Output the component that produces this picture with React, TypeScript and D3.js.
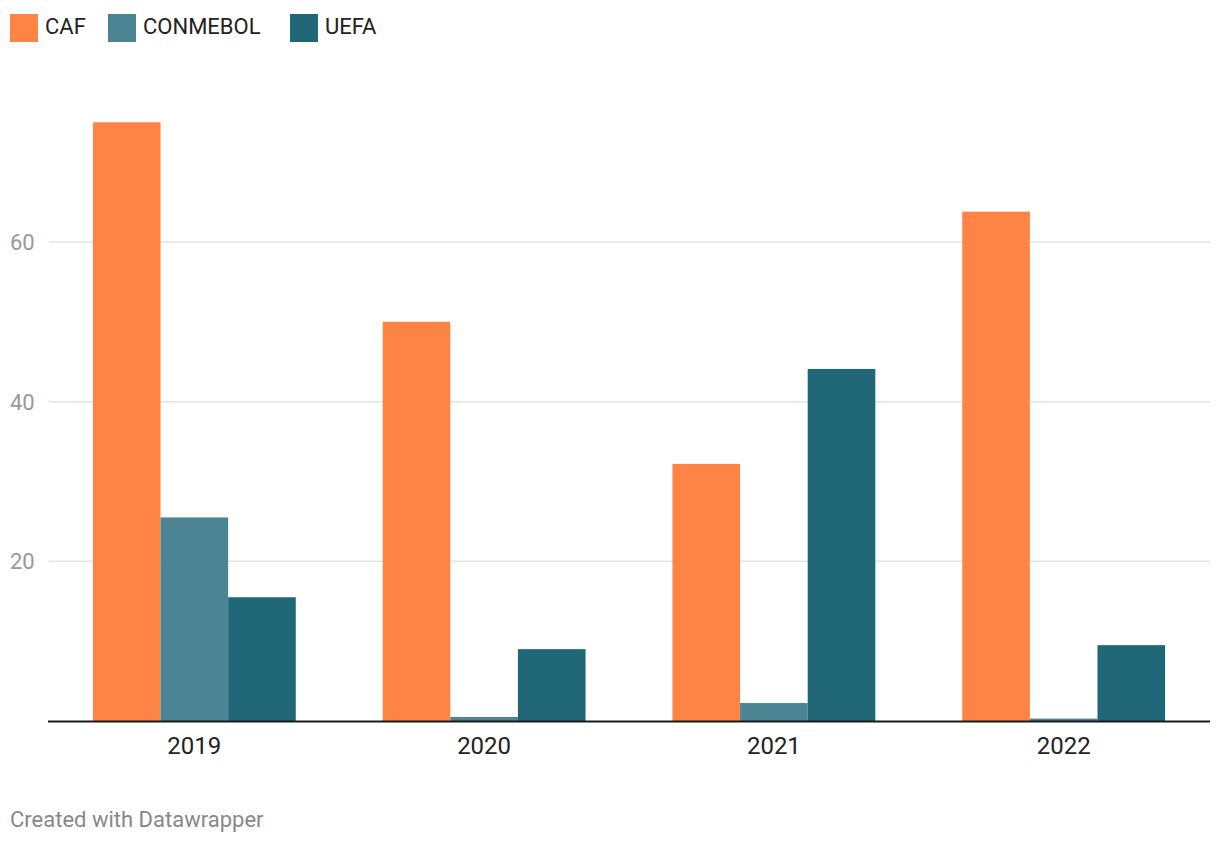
import * as d3 from "d3";

const WIDTH = 1220;
const HEIGHT = 844;
const MARGIN = { left: 48, right: 10, baseline: 721 };

const YEARS = ["2019", "2020", "2021", "2022"];
const SERIES = ["CAF", "CONMEBOL", "UEFA"];
const CAF = [75, 50, 32.2, 63.8];
const CONMEBOL = [25.5, 0.5, 2.25, 0.3];
const UEFA = [15.5, 9, 44.1, 9.5];
const Y_TICKS = [20, 40, 60];

const COLORS = ["#fe8445", "#4b8593", "#1f6677"];

const FONT = "Roboto, 'Noto Sans', sans-serif";

export default function App() {
  const values = [CAF, CONMEBOL, UEFA];

  const xScale = d3
    .scaleBand<string>()
    .domain(YEARS)
    .range([MARGIN.left, WIDTH - MARGIN.right])
    .paddingInner(0.3)
    .paddingOuter(0.155);

  const xInner = d3
    .scaleBand<string>()
    .domain(SERIES)
    .range([0, xScale.bandwidth()]);

  const yScale = d3.scaleLinear().domain([0, 60]).range([MARGIN.baseline, 242]);

  const colorScale = d3.scaleOrdinal<string>().domain(SERIES).range(COLORS);

  // legend positions (square + label)
  const legendX = [10, 108, 290];

  return (
    <svg
      width={WIDTH}
      height={HEIGHT}
      style={{ position: "absolute", left: 0, top: 0, background: "#fff" }}
      fontFamily={FONT}
    >
      {/* legend */}
      {SERIES.map((s, i) => (
        <g key={s} transform={`translate(${legendX[i]}, 14)`}>
          <rect width={28} height={28} fill={colorScale(s)} />
          <text x={35} y={19.5} fontSize={22} fill="#222">
            {s}
          </text>
        </g>
      ))}

      {/* gridlines + y labels */}
      {Y_TICKS.map((t) => (
        <g key={t}>
          <line
            x1={MARGIN.left + 1}
            x2={WIDTH - MARGIN.right}
            y1={yScale(t)}
            y2={yScale(t)}
            stroke="#e3e3e3"
            strokeWidth={1.5}
          />
          <text x={10} y={yScale(t)} dy="0.36em" fontSize={22} fill="#999">
            {t}
          </text>
        </g>
      ))}

      {/* bars */}
      {YEARS.map((year, yi) => (
        <g key={year} transform={`translate(${xScale(year)}, 0)`}>
          {SERIES.map((s, si) => {
            const v = values[si][yi];
            return (
              <rect
                key={s}
                x={xInner(s)}
                y={yScale(v)}
                width={xInner.bandwidth()}
                height={MARGIN.baseline - yScale(v)}
                fill={colorScale(s)}
              />
            );
          })}
        </g>
      ))}

      {/* x axis */}
      <line
        x1={MARGIN.left}
        x2={WIDTH - MARGIN.right}
        y1={MARGIN.baseline + 0.5}
        y2={MARGIN.baseline + 0.5}
        stroke="#1a1a1a"
        strokeWidth={2}
      />
      {YEARS.map((year) => (
        <text
          key={year}
          x={(xScale(year) ?? 0) + xScale.bandwidth() / 2}
          y={754}
          fontSize={24}
          fill="#222"
          textAnchor="middle"
        >
          {year}
        </text>
      ))}

      {/* footer */}
      <text x={10} y={827} fontSize={22} fill="#888">
        Created with Datawrapper
      </text>
    </svg>
  );
}
